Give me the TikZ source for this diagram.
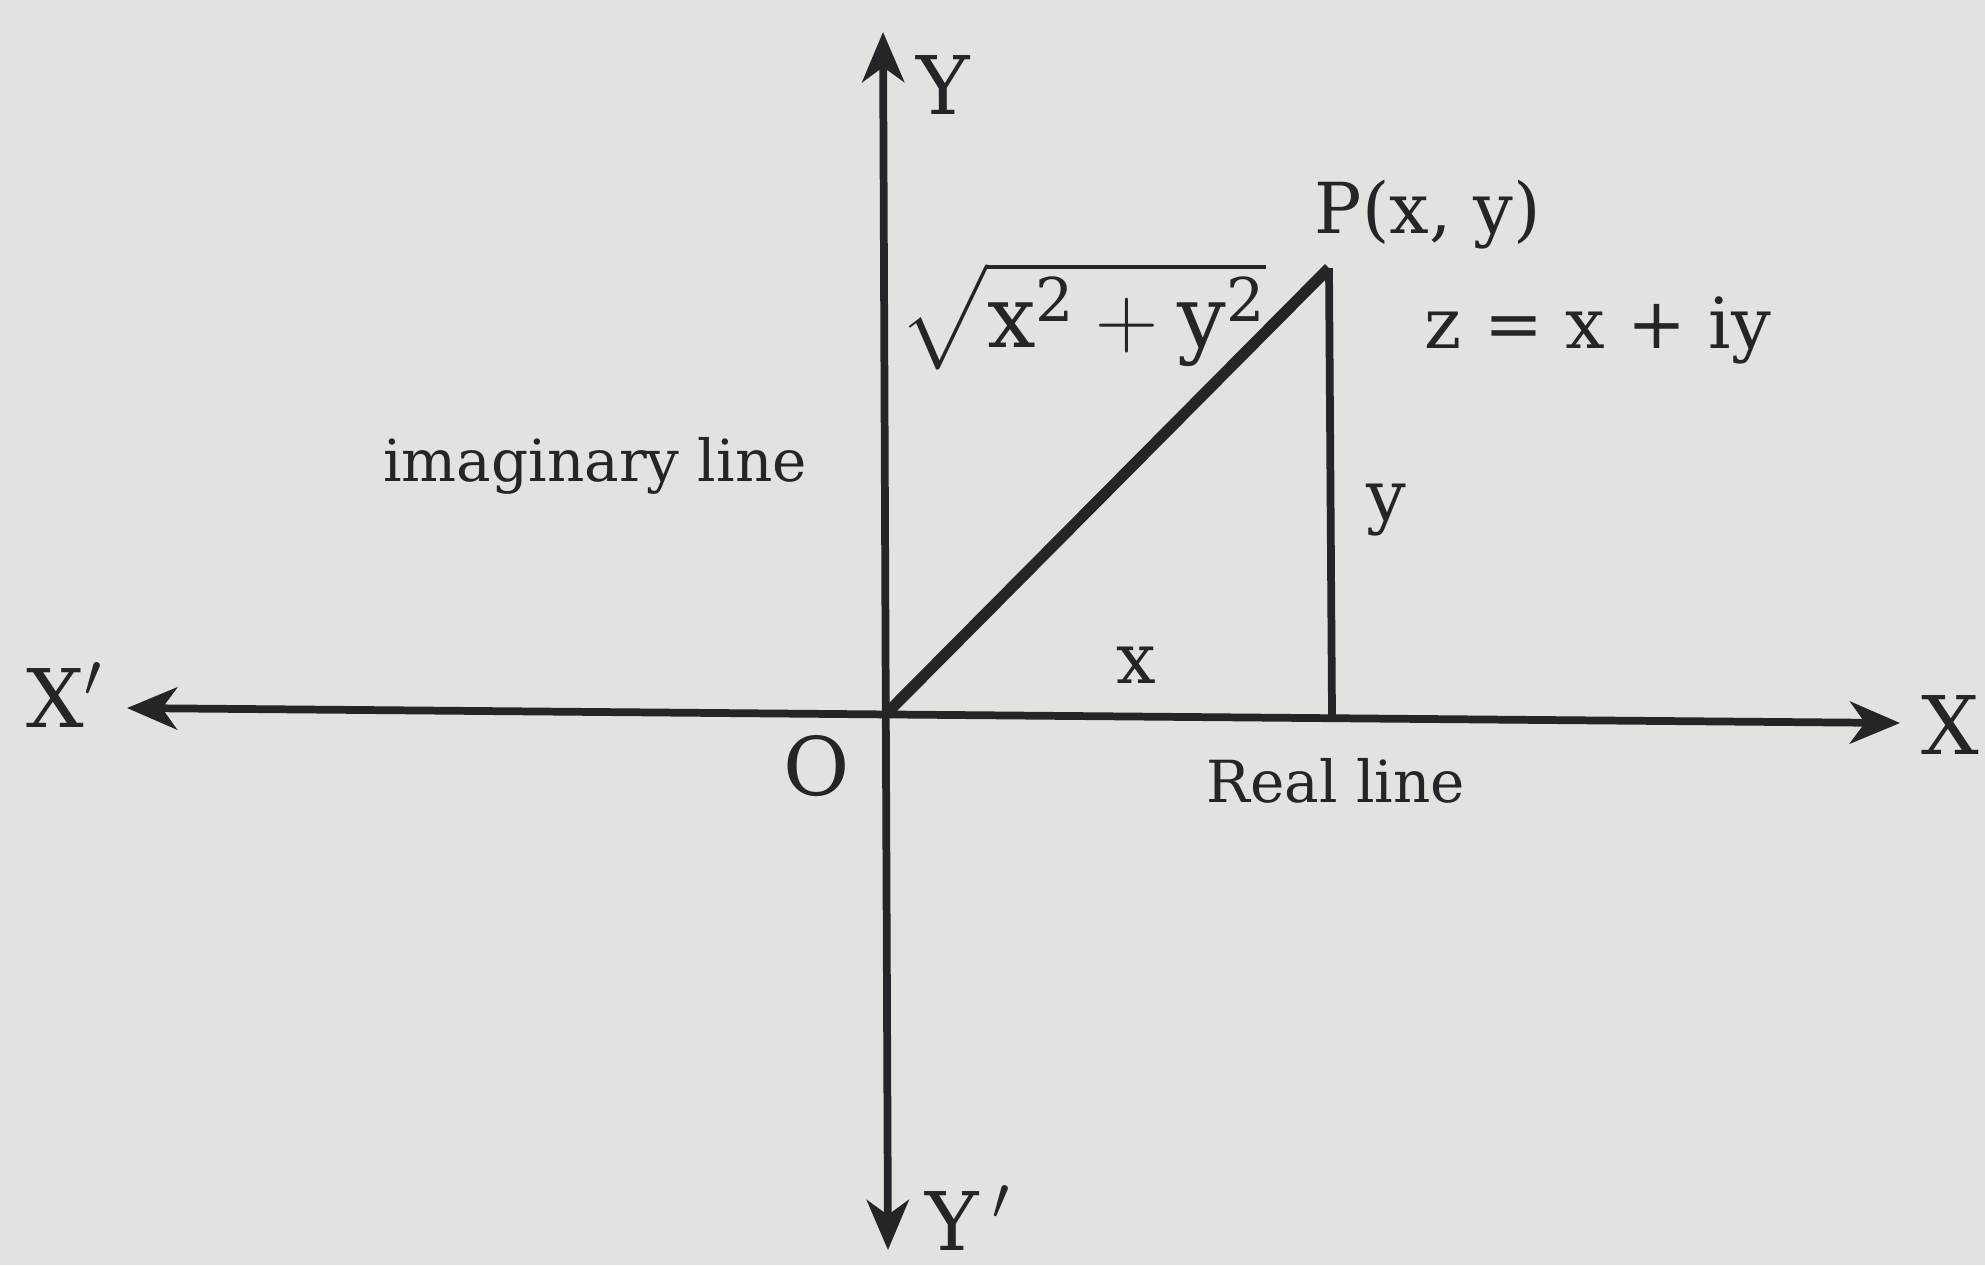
\documentclass[tikz,border=0pt]{standalone}
\usepackage{amsmath}
\usepackage{fontspec}
\setmainfont{DejaVu Serif}
\usetikzlibrary{arrows.meta}
\definecolor{paper}{RGB}{226,226,222}
\definecolor{ink}{RGB}{38,36,36}
\tikzset{
  axisline/.style={draw=ink, line width=2.2pt},
  bothtips/.style={{Stealth[length=5mm,width=4.2mm,inset=1.5mm]}-{Stealth[length=5mm,width=4.2mm,inset=1.5mm]}},
  biglab/.style={text=ink, inner sep=0pt, font=\fontsize{23}{27}\selectfont},
  midlab/.style={text=ink, inner sep=0pt, font=\fontsize{20}{24}\selectfont},
  smalllab/.style={text=ink, inner sep=0pt, font=\fontsize{16.5}{20}\selectfont},
}
\begin{document}
\begin{tikzpicture}[x=0.01cm,y=-0.01cm]
\fill[paper] (0,0) rectangle (1985,1265);
\useasboundingbox (0,0) rectangle (1985,1265);
\coordinate (O) at (886,714);
\coordinate (P) at (1329,268);
\coordinate (F) at (1332,715);
\coordinate (XL) at (127,708);
\coordinate (XR) at (1900,723);
\coordinate (YT) at (883,32);
\coordinate (YB) at (888,1250);
% axes
\draw[axisline,bothtips] (XL) -- (XR);
\draw[axisline,bothtips] (YB) -- (YT);
% triangle
\draw[draw=ink, line width=3.2pt] (O) -- (P);
\draw[draw=ink, line width=2.2pt] (P) -- (F);
% labels
\node[biglab] (lY) at (943,85) {Y};
\node[biglab] (lYp) at (968,1218) {Y\,$'$};
\node[biglab] (lXp) at (65,695) {X$'$};
\node[biglab] (lX) at (1950,725) {X};
\node[biglab] (lO) at (817,766) {O};
\node[midlab] (lP) at (1428,215) {P(x, y)};
\node[midlab] (lz) at (1598,330) {z = x + iy};
\node[text=ink, inner sep=0pt, font=\fontsize{24.5}{28}\selectfont] (lr) at (1083,316) {$\sqrt{\textrm{x}^{\textrm{2}}+\textrm{y}^{\textrm{2}}}$};
\node[smalllab] (lim) at (595,466) {imaginary line};
\node[midlab] (ly) at (1386,510) {y};
\node[midlab] (lx) at (1136,665) {x};
\node[smalllab] (lre) at (1336,781) {Real line};
\end{tikzpicture}
\end{document}
